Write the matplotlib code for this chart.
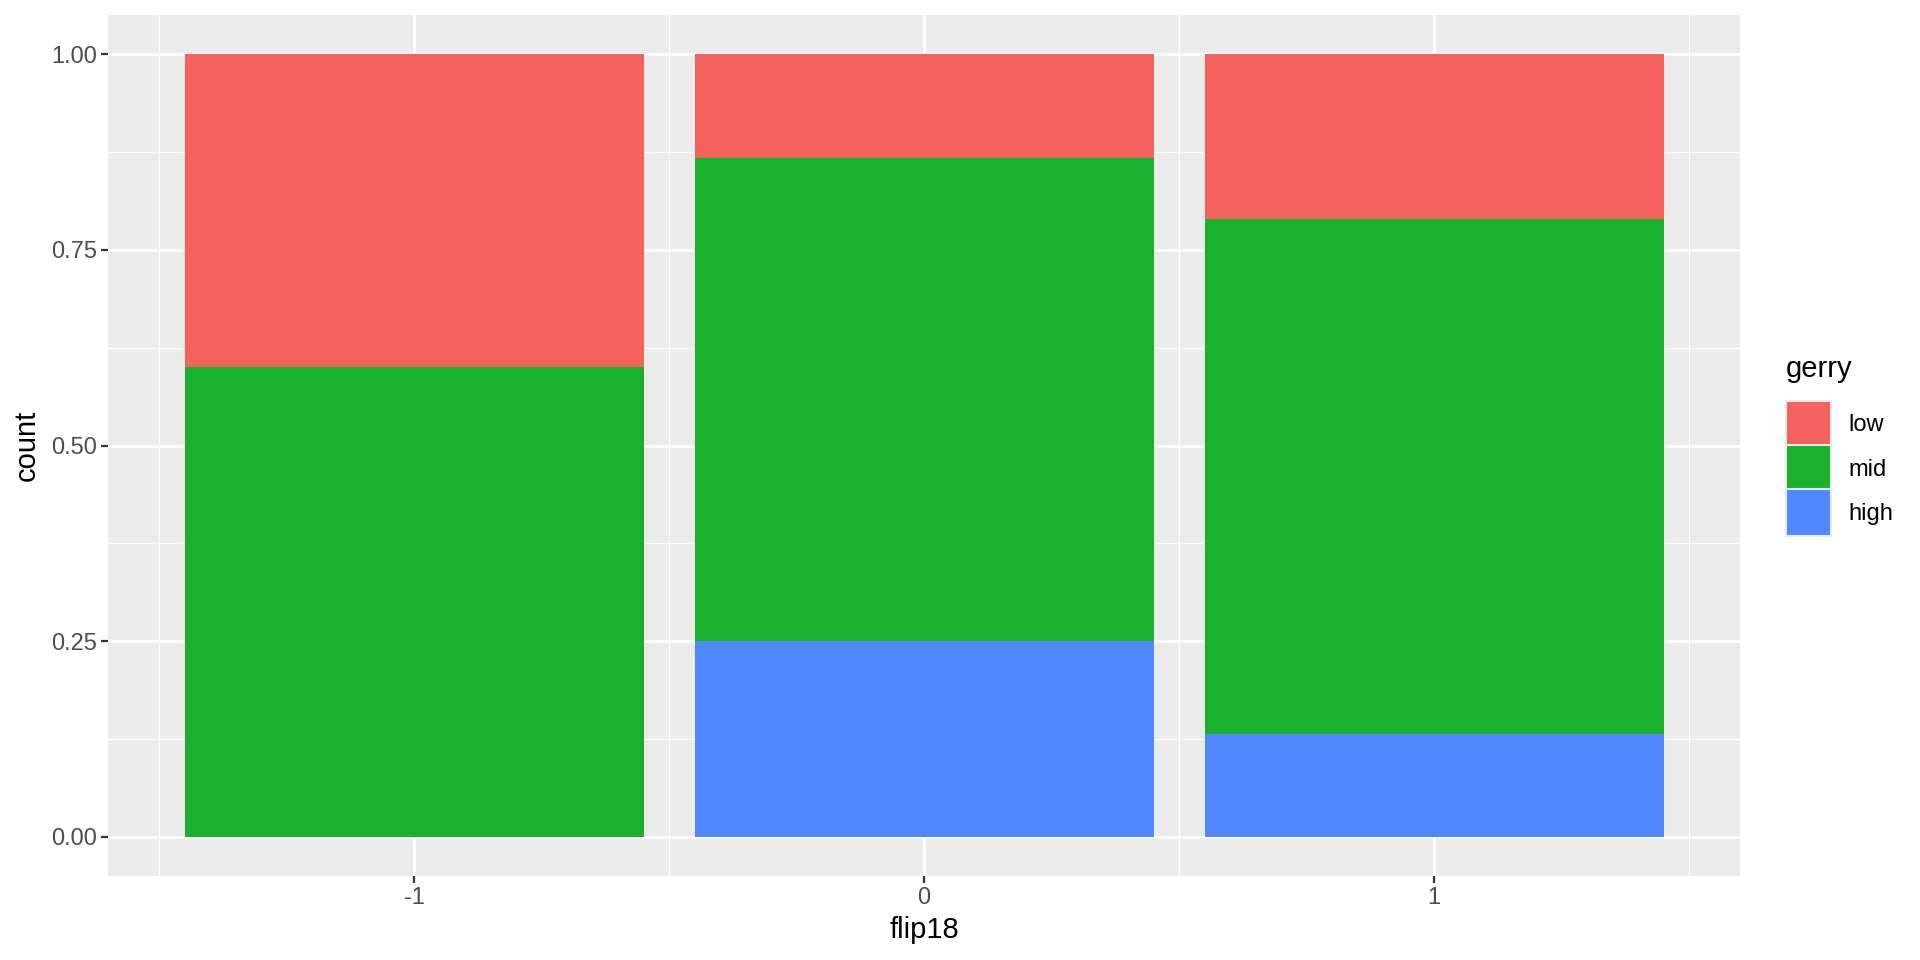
import numpy as np
import matplotlib.pyplot as plt
from matplotlib.ticker import FixedLocator

plt.rcParams['font.family'] = ['Liberation Sans', 'DejaVu Sans']

# data: share of each gerry level within flip18 group
flip18 = ['-1', '0', '1']
gerry = ['low', 'mid', 'high']
low = np.array([0.40, 0.133, 0.211])
mid = np.array([0.60, 0.617, 0.658])
high = np.array([0.00, 0.25, 0.131])

colors = {'low': '#F5615C', 'mid': '#19B02E', 'high': '#5088FF'}

fig = plt.figure(figsize=(19.2, 9.6), dpi=100)
ax = fig.add_axes([108 / 1920, 1 - 876 / 960, 1632 / 1920, 861 / 960])
ax.set_facecolor('#EBEBEB')

x = np.arange(len(flip18))
# stack from the bottom: high, mid, low
ax.bar(x, high, width=0.9, color=colors['high'], label='high', zorder=3)
ax.bar(x, mid, width=0.9, bottom=high, color=colors['mid'], label='mid', zorder=3)
ax.bar(x, low, width=0.9, bottom=high + mid, color=colors['low'], label='low', zorder=3)

ax.set_xlim(-0.6, 2.6)
ax.set_ylim(-0.05, 1.05)
ax.set_xticks(x)
ax.set_xticklabels(flip18)
ax.set_yticks([0, 0.25, 0.5, 0.75, 1.0])
ax.set_yticklabels(['0.00', '0.25', '0.50', '0.75', '1.00'])
ax.xaxis.set_minor_locator(FixedLocator([-0.5, 0.5, 1.5, 2.5]))
ax.yaxis.set_minor_locator(FixedLocator([0.125, 0.375, 0.625, 0.875]))

ax.grid(which='major', color='white', linewidth=1.8, zorder=1)
ax.grid(which='minor', color='white', linewidth=0.9, zorder=1)
ax.set_axisbelow(True)
for s in ax.spines.values():
    s.set_visible(False)

ax.tick_params(which='major', length=5, width=1.6, color='#333333',
               labelsize=17, labelcolor='#4D4D4D', pad=3)
ax.tick_params(which='minor', length=0)

ax.set_xlabel('flip18', fontsize=21, labelpad=5)
ax.set_ylabel('count', fontsize=21, labelpad=7)

h, l = ax.get_legend_handles_labels()
order = [2, 1, 0]
leg = ax.legend([h[i] for i in order], [l[i] for i in order], title='gerry',
                loc='upper left', bbox_to_anchor=(1.028, 0.605), frameon=False,
                fontsize=17, title_fontsize=21, handlelength=1.9,
                handleheight=2.65, labelspacing=-0.1, handletextpad=0.75,
                borderaxespad=0, borderpad=0)
leg._legend_box.align = 'left'
leg._legend_box.sep = 13
for p in leg.get_patches():
    p.set_edgecolor('#EBEBEB')
    p.set_linewidth(1.5)

fig.savefig('out.png', dpi=100)
